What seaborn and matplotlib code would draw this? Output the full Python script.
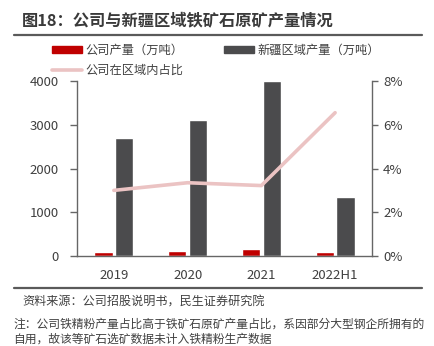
import matplotlib
matplotlib.use("Agg")
import matplotlib.pyplot as plt
import seaborn as sns
import pandas as pd
from matplotlib.lines import Line2D
from matplotlib.patches import Patch
from matplotlib.ticker import FuncFormatter, FixedLocator

years = ["2019", "2020", "2021", "2022H1"]
company_output = [95, 115, 165, 100]
region_output = [2700, 3100, 4000, 1350]
company_share = [3.0, 3.35, 3.22, 6.55]

label_company = "公司产量（万吨）"
label_region = "新疆区域产量（万吨）"
label_share = "公司在区域内占比"

sns.set_theme(style="white")
plt.rcParams['font.family'] = ['Noto Sans CJK SC', 'DejaVu Sans']

df = pd.DataFrame({
    "year": years * 2,
    "value": company_output + region_output,
    "series": [label_company] * 4 + [label_region] * 4,
})
df_share = pd.DataFrame({"year": years, "share": company_share})

red = "#C00000"
dark = "#4B4B4D"
pink = "#EBC3C3"
axis_col = "#666666"
text_col = "#404040"

fig = plt.figure(figsize=(4.34, 3.46), dpi=100)
ax = fig.add_axes([0.1774, 0.260, 0.6797, 0.506])

sns.barplot(data=df, x="year", y="value", hue="series",
            palette=[red, dark], width=0.56, gap=0.12,
            ax=ax, legend=False, saturation=1)
ax.set_ylim(0, 4000)
ax.set_xlim(-0.5, 3.5)
ax.set_yticks([0, 1000, 2000, 3000, 4000])
ax.set_xlabel("")
ax.set_ylabel("")

ax2 = ax.twinx()
sns.lineplot(data=df_share, x="year", y="share", color=pink, linewidth=2.6,
             ax=ax2, legend=False)
ax2.set_ylim(0, 8)
ax2.set_yticks([0, 2, 4, 6, 8])
ax2.yaxis.set_major_formatter(FuncFormatter(lambda v, p: f"{int(v)}%"))
ax2.set_ylabel("")
ax2.set_xlim(-0.5, 3.5)

for a in (ax, ax2):
    for s in a.spines.values():
        s.set_color(axis_col)
        s.set_linewidth(1.0)
    a.spines["top"].set_visible(False)
    a.tick_params(colors=text_col, labelsize=9.5)

ax.tick_params(axis="y", length=5, width=1, color=axis_col, pad=8)
ax2.tick_params(axis="y", length=4, width=1, color=axis_col, pad=4)

ax.spines["right"].set_visible(False)
ax2.spines["left"].set_visible(False)
ax2.spines["bottom"].set_visible(False)

ax.tick_params(axis="x", which="major", length=0, pad=9)
ax.xaxis.set_minor_locator(FixedLocator([-0.5, 0.5, 1.5, 2.5, 3.5]))
ax.tick_params(axis="x", which="minor", length=4, width=1, color=axis_col, direction="out")
for lbl in ax.get_xticklabels() + ax.get_yticklabels() + ax2.get_yticklabels():
    lbl.set_color(text_col)

handles = [Patch(color=red, label=label_company),
           Line2D([0], [0], color=pink, linewidth=2.6, label=label_share),
           Patch(color=dark, label=label_region)]
fig.legend(handles=handles, loc="upper left", bbox_to_anchor=(0.119, 0.873),
           ncol=2, frameon=False, fontsize=8.8, handlelength=2.5, handleheight=0.45,
           handletextpad=0.25, columnspacing=3.3, labelspacing=0.6,
           labelcolor=text_col, borderaxespad=0, borderpad=0)

fig.text(22 / 434, 1 - 20 / 346, "图18：公司与新疆区域铁矿石原矿产量情况",
         fontsize=11.7, fontweight="bold", color="#3A3A3A", va="center", ha="left")
fig.add_artist(Line2D([14 / 434, 422 / 434], [1 - 34.5 / 346] * 2,
                      color="#5A5A5A", linewidth=1.6))
fig.add_artist(Line2D([14 / 434, 422 / 434], [1 - 288 / 346] * 2,
                      color="#5A5A5A", linewidth=1.6))
fig.text(22 / 434, 1 - 302 / 346, "资料来源：公司招股说明书，民生证券研究院",
         fontsize=8.7, color=text_col, va="center", ha="left")
fig.text(13 / 434, 1 - 324 / 346,
         "注：公司铁精粉产量占比高于铁矿石原矿产量占比，系因部分大型钢企所拥有的",
         fontsize=8.5, color=text_col, va="center", ha="left")
fig.text(13 / 434, 1 - 339 / 346,
         "自用，故该等矿石选矿数据未计入铁精粉生产数据",
         fontsize=8.5, color=text_col, va="center", ha="left")

fig.savefig("out.png", dpi=100)
